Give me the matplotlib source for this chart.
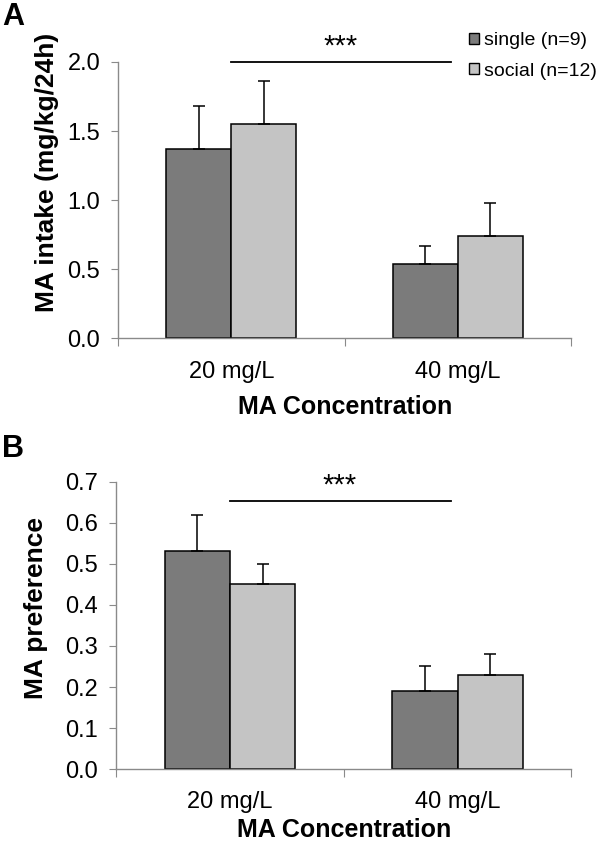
import numpy as np
import matplotlib.pyplot as plt
from matplotlib.patches import Patch

# data
groups = ["20 mg/L", "40 mg/L"]
series = ["single (n=9)", "social (n=12)"]

intake_single = [1.37, 0.54]
intake_social = [1.55, 0.74]
intake_single_err = [0.31, 0.13]
intake_social_err = [0.31, 0.24]

pref_single = [0.53, 0.19]
pref_social = [0.45, 0.23]
pref_single_err = [0.09, 0.06]
pref_social_err = [0.05, 0.05]

colors = ["#7b7b7b", "#c4c4c4"]

plt.rcParams["font.family"] = ["Liberation Sans", "DejaVu Sans"]
plt.rcParams["font.size"] = 17

fig = plt.figure(figsize=(6.0, 8.48), dpi=100)
axA = fig.add_axes([0.197, 0.601, 0.755, 0.326])
axB = fig.add_axes([0.194, 0.093, 0.758, 0.339])

x = np.arange(len(groups))
w = 0.287


def panel(ax, single, social, serr, soerr, ylim, yticks, ylabel, lx, ly, xpad):
    ax.bar(x - w / 2, single, w, color=colors[0], edgecolor="black", linewidth=1.1,
           yerr=[np.zeros(2), serr], capsize=4, error_kw=dict(elinewidth=1.1, capthick=1.1))
    ax.bar(x + w / 2, social, w, color=colors[1], edgecolor="black", linewidth=1.1,
           yerr=[np.zeros(2), soerr], capsize=4, error_kw=dict(elinewidth=1.1, capthick=1.1))
    ax.set_xlim(-0.5, 1.5)
    ax.set_ylim(*ylim)
    ax.set_yticks(yticks)
    ax.set_yticklabels(["{:.1f}".format(v) for v in yticks])
    ax.set_xticks([-0.5, 0.5, 1.5])
    ax.set_xticklabels([])
    ax.set_xticks(x, minor=True)
    ax.set_xticklabels(groups, minor=True)
    ax.tick_params(axis="x", which="major", length=6, color="#8a8a8a", direction="out")
    ax.tick_params(axis="x", which="minor", length=0, pad=16)
    ax.tick_params(axis="y", length=5, color="#8a8a8a", direction="out", pad=8)
    for s in ["top", "right"]:
        ax.spines[s].set_visible(False)
    for s in ["left", "bottom"]:
        ax.spines[s].set_color("#8a8a8a")
        ax.spines[s].set_linewidth(1.0)
    ax.set_ylabel(ylabel, fontweight="bold", fontsize=19)
    ax.yaxis.set_label_coords(lx, ly)
    ax.set_xlabel("MA Concentration", fontweight="bold", fontsize=18, labelpad=xpad)


panel(axA, intake_single, intake_social, intake_single_err, intake_social_err,
      (0, 2.0), [0.0, 0.5, 1.0, 1.5, 2.0], "MA intake (mg/kg/24h)", -0.13, 0.6, 9)
panel(axB, pref_single, pref_social, pref_single_err, pref_social_err,
      (0, 0.7), [0.0, 0.1, 0.2, 0.3, 0.4, 0.5, 0.6, 0.7], "MA preference", -0.15, 0.56, 3)

# significance bars
axA.plot([0.0, 0.97], [2.0, 2.0], color="black", lw=1.3, clip_on=False)
axA.text(0.48, 2.01, "***", ha="center", va="bottom", fontsize=21)
axB.plot([0.0, 0.97], [0.653, 0.653], color="black", lw=1.3, clip_on=False)
axB.text(0.48, 0.656, "***", ha="center", va="bottom", fontsize=21)

handles = [Patch(facecolor=colors[0], edgecolor="black"),
           Patch(facecolor=colors[1], edgecolor="black")]
fig.legend(handles, series, loc="upper left", bbox_to_anchor=(0.782, 0.962),
           frameon=False, handlelength=0.5, handleheight=0.5, handletextpad=0.25,
           labelspacing=0.7, fontsize=14, borderaxespad=0, borderpad=0)

fig.text(0.003, 0.998, "A", fontsize=22, fontweight="bold", va="top", ha="left")
fig.text(0.003, 0.488, "B", fontsize=22, fontweight="bold", va="top", ha="left")

fig.savefig("out.png", dpi=100)
